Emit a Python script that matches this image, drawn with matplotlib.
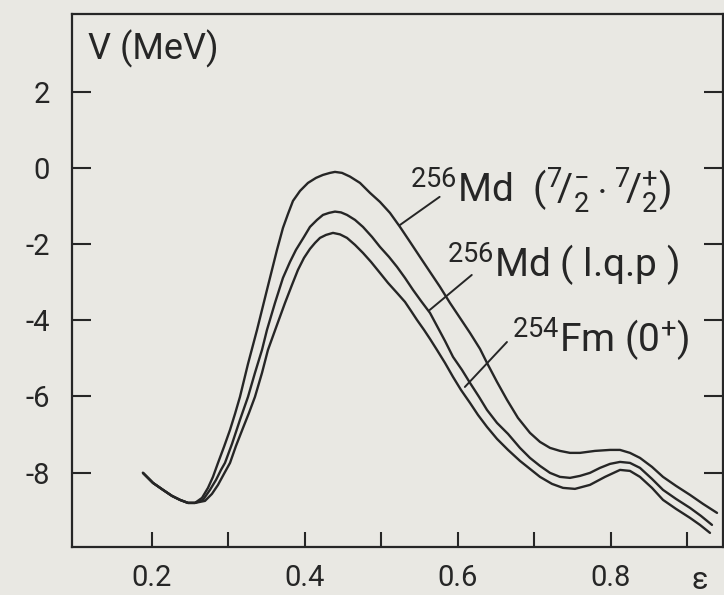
import matplotlib
matplotlib.use("Agg")
import matplotlib.pyplot as plt
import matplotlib.transforms as mtransforms

plt.rcParams['font.family'] = ['Roboto', 'DejaVu Sans']
plt.rcParams['mathtext.fontset'] = 'custom'
plt.rcParams['mathtext.rm'] = 'Roboto'
plt.rcParams['mathtext.it'] = 'Roboto'
plt.rcParams['mathtext.bf'] = 'Roboto'
plt.rcParams['axes.unicode_minus'] = False

# ---- data (deformation eps, potential energy V in MeV) ----
eps_md_7_2 = [0.1882, 0.2013, 0.2144, 0.2261, 0.2366, 0.2471, 0.2562, 0.2654, 0.2732, 0.2797,
              0.2863, 0.2941, 0.3020, 0.3085, 0.3150, 0.3255, 0.3373, 0.3503, 0.3634, 0.3712,
              0.3778, 0.3843, 0.3935, 0.4039, 0.4144, 0.4235, 0.4327, 0.4392, 0.4484, 0.4588,
              0.4719, 0.4850, 0.4980, 0.5111, 0.5242, 0.5373, 0.5503, 0.5634, 0.5765, 0.5895,
              0.6026, 0.6157, 0.6288, 0.6379, 0.6510, 0.6641, 0.6784, 0.6941, 0.7072, 0.7203,
              0.7333, 0.7464, 0.7595, 0.7791, 0.7987, 0.8118, 0.8248, 0.8379, 0.8536, 0.8680,
              0.8850, 0.9033, 0.9203, 0.9386]
v_md_7_2 = [-8.005, -8.268, -8.451, -8.609, -8.714, -8.793, -8.793, -8.661, -8.399, -8.110,
            -7.743, -7.323, -6.877, -6.457, -6.010, -5.144, -4.252, -3.202, -2.152, -1.575,
            -1.207, -0.866, -0.604, -0.394, -0.262, -0.184, -0.131, -0.105, -0.131, -0.228,
            -0.394, -0.656, -0.892, -1.181, -1.549, -1.942, -2.336, -2.730, -3.123, -3.543,
            -3.937, -4.331, -4.751, -5.118, -5.617, -6.089, -6.562, -6.955, -7.192, -7.349,
            -7.428, -7.480, -7.480, -7.428, -7.402, -7.402, -7.480, -7.612, -7.848, -8.110,
            -8.346, -8.583, -8.819, -9.055]

eps_md_lqp = [0.1882, 0.2013, 0.2144, 0.2261, 0.2366, 0.2471, 0.2562, 0.2667, 0.2758, 0.2837,
              0.2902, 0.2954, 0.3046, 0.3150, 0.3255, 0.3346, 0.3438, 0.3503, 0.3608, 0.3712,
              0.3804, 0.3882, 0.3987, 0.4065, 0.4157, 0.4235, 0.4314, 0.4392, 0.4471, 0.4549,
              0.4654, 0.4758, 0.4876, 0.4980, 0.5098, 0.5203, 0.5307, 0.5412, 0.5516, 0.5634,
              0.5725, 0.5830, 0.5935, 0.6052, 0.6157, 0.6275, 0.6379, 0.6510, 0.6654, 0.6810,
              0.6941, 0.7072, 0.7203, 0.7333, 0.7464, 0.7595, 0.7725, 0.7856, 0.7987, 0.8118,
              0.8248, 0.8379, 0.8536, 0.8680, 0.8850, 0.9033, 0.9176, 0.9320]
v_md_lqp = [-8.005, -8.268, -8.451, -8.609, -8.714, -8.793, -8.793, -8.714, -8.451, -8.189,
            -7.927, -7.743, -7.244, -6.614, -6.010, -5.381, -4.777, -4.252, -3.543, -2.887,
            -2.467, -2.152, -1.811, -1.549, -1.365, -1.234, -1.181, -1.147, -1.168, -1.234,
            -1.365, -1.549, -1.811, -2.073, -2.336, -2.598, -2.887, -3.202, -3.491, -3.806,
            -4.147, -4.541, -4.961, -5.302, -5.643, -6.010, -6.352, -6.693, -6.982, -7.349,
            -7.612, -7.822, -8.005, -8.110, -8.136, -8.084, -8.005, -7.874, -7.769, -7.717,
            -7.743, -7.874, -8.163, -8.451, -8.688, -8.924, -9.134, -9.370]

eps_fm = [0.1882, 0.2013, 0.2144, 0.2261, 0.2366, 0.2471, 0.2562, 0.2693, 0.2784, 0.2863,
          0.2941, 0.3020, 0.3098, 0.3190, 0.3268, 0.3346, 0.3438, 0.3516, 0.3634, 0.3739,
          0.3830, 0.3908, 0.3987, 0.4065, 0.4131, 0.4196, 0.4275, 0.4366, 0.4458, 0.4549,
          0.4654, 0.4758, 0.4863, 0.4980, 0.5085, 0.5203, 0.5307, 0.5386, 0.5464, 0.5556,
          0.5634, 0.5725, 0.5830, 0.5935, 0.6039, 0.6157, 0.6261, 0.6379, 0.6510, 0.6654,
          0.6810, 0.6941, 0.7072, 0.7229, 0.7373, 0.7529, 0.7725, 0.7922, 0.8118, 0.8248,
          0.8379, 0.8536, 0.8680, 0.8850, 0.9033, 0.9163, 0.9294]
v_fm = [-8.005, -8.268, -8.451, -8.609, -8.714, -8.793, -8.793, -8.740, -8.556, -8.320,
        -8.031, -7.743, -7.297, -6.824, -6.430, -6.010, -5.381, -4.777, -4.121, -3.543,
        -3.071, -2.677, -2.362, -2.126, -1.969, -1.837, -1.759, -1.706, -1.745, -1.837,
        -2.021, -2.231, -2.467, -2.756, -3.018, -3.281, -3.517, -3.753, -3.990, -4.252,
        -4.488, -4.777, -5.118, -5.486, -5.827, -6.168, -6.483, -6.798, -7.113, -7.402,
        -7.690, -7.900, -8.110, -8.294, -8.399, -8.425, -8.320, -8.110, -7.927, -7.953,
        -8.110, -8.399, -8.714, -8.950, -9.186, -9.370, -9.580]

x_ticks = [0.2, 0.3, 0.4, 0.5, 0.6, 0.7, 0.8, 0.9]
x_tick_labels = ['0.2', '', '0.4', '', '0.6', '', '0.8', '']
y_ticks = [2, 0, -2, -4, -6, -8]
y_tick_labels = ['2', '0', '-2', '-4', '-6', '-8']

labels = [r'$^{256}$Md  (${}^{7}\!/_{2}^{-}\cdot{}^{7}\!/_{2}^{+}$)',
          r'$^{256}$Md ( l.q.p )',
          r'$^{254}$Fm (0$^{+}$)']

ink = '#262626'
paper = '#e9e8e3'

fig = plt.figure(figsize=(7.24, 5.95), dpi=100, facecolor=paper)
ax = fig.add_axes([0.0994, 0.0807, 0.8992, 0.8958], facecolor=paper)

for e, v in [(eps_md_7_2, v_md_7_2), (eps_md_lqp, v_md_lqp), (eps_fm, v_fm)]:
    ax.plot(e, v, color=ink, lw=1.7, solid_capstyle='round', solid_joinstyle='round')

ax.set_xlim(0.0954, 0.9464)
ax.set_ylim(-9.95, 4.04)

ax.set_xticks(x_ticks)
ax.set_xticklabels(x_tick_labels)
ax.set_yticks(y_ticks)
ax.set_yticklabels(y_tick_labels)
ax.tick_params(axis='x', direction='in', length=11, width=1.5, color=ink,
               labelsize=21, labelcolor=ink, pad=12)
ax.tick_params(axis='y', direction='in', length=14, width=1.5, color=ink,
               labelsize=21, labelcolor=ink, pad=16, right=True)
for s in ax.spines.values():
    s.set_color(ink)
    s.set_linewidth(1.6)

# epsilon axis symbol
trans = mtransforms.blended_transform_factory(ax.transData, ax.transAxes)
ax.text(0.916, -0.036, 'ε', transform=trans, ha='center', va='top',
        fontsize=22, color=ink)

# axis title inside the frame
ax.text(0.0246, 0.914, 'V (MeV)', transform=ax.transAxes, ha='left',
        va='baseline', fontsize=26, color=ink)

# curve labels with leader lines
label_pos = [(0.537, -0.89), (0.586, -2.89), (0.671, -4.86)]
leader_start = [(0.576, -0.76), (0.618, -2.81), (0.664, -4.57)]
leader_end = [(0.524, -1.50), (0.563, -3.73), (0.609, -5.75)]
for txt, p, s, t in zip(labels, label_pos, leader_start, leader_end):
    ax.text(p[0], p[1], txt, ha='left', va='baseline', fontsize=28, color=ink)
    ax.annotate('', xy=t, xytext=s,
                arrowprops=dict(arrowstyle='-', color=ink, lw=1.4,
                                shrinkA=0, shrinkB=0))

fig.savefig('out.png', dpi=100, facecolor=paper)
